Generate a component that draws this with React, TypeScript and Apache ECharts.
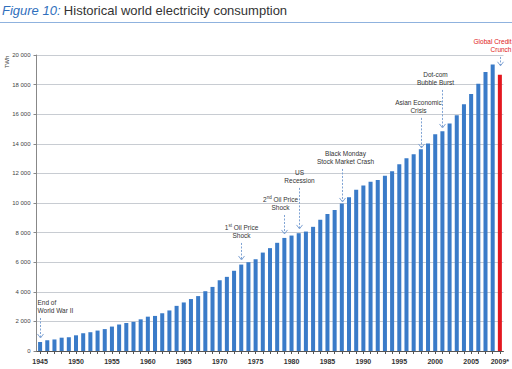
import React, { useEffect, useRef } from "react";
import * as echarts from "echarts";

const years = [
  "1945","1946","1947","1948","1949","1950","1951","1952","1953","1954",
  "1955","1956","1957","1958","1959","1960","1961","1962","1963","1964",
  "1965","1966","1967","1968","1969","1970","1971","1972","1973","1974",
  "1975","1976","1977","1978","1979","1980","1981","1982","1983","1984",
  "1985","1986","1987","1988","1989","1990","1991","1992","1993","1994",
  "1995","1996","1997","1998","1999","2000","2001","2002","2003","2004",
  "2005","2006","2007","2008","2009",
];

const consumptionTWh = [
  600, 730, 780, 900, 930, 1060, 1200, 1270, 1380, 1480,
  1650, 1790, 1900, 1970, 2140, 2320, 2370, 2550, 2740, 3050,
  3280, 3510, 3710, 4040, 4330, 4780, 5010, 5420, 5840, 6000,
  6200, 6650, 6950, 7310, 7640, 7800, 7960, 8070, 8390, 8860,
  9250, 9520, 9960, 10390, 10890, 11180, 11430, 11550, 11840, 12140,
  12610, 13030, 13300, 13640, 14020, 14650, 14850, 15370, 15930, 16670,
  17370, 18050, 18850, 19350, 18670,
];

const estimatedYear = "2009";

const annotationYears = ["1945", "1973", "1979", "1981", "1987", "1998", "2001", "2009"];
const annotationTexts = [
  "End of\nWorld War II",
  "1{sup|st} Oil Price\nShock",
  "2{sup|nd} Oil Price\nShock",
  "US\nRecession",
  "Black Monday\nStock Market Crash",
  "Asian Economic\nCrisis",
  "Dot-com\nBubble Burst",
  "Global Credit\nCrunch",
];
const arrowStartValues = [2230, 7300, 9190, 11020, 12300, 15750, 17640, 19870];
const arrowEndValues = [880, 6150, 7910, 8250, 10070, 13720, 15070, 19270];

// layout (pixel offsets of the label relative to the arrow, and alignment)
const labelLayout = [
  { dx: -3, align: "left", color: "#333" },
  { dx: 0, align: "center", color: "#333" },
  { dx: -4, align: "center", color: "#333" },
  { dx: 0, align: "center", color: "#333" },
  { dx: 3, align: "center", color: "#333" },
  { dx: -3, align: "center", color: "#333" },
  { dx: -7, align: "center", color: "#333" },
  { dx: 11, align: "right", color: "#e02020" },
];

const yTicks = [0, 2000, 4000, 6000, 8000, 10000, 12000, 14000, 16000, 18000, 20000];

const fmtThousands = (v: number) => {
  const s = String(v);
  if (s.length <= 3) return s;
  return s.slice(0, s.length - 3) + " " + s.slice(s.length - 3);
};

export default function App() {
  const ref = useRef<HTMLDivElement>(null);
  useEffect(() => {
    if (!ref.current) return;
    const chart = echarts.init(ref.current, undefined, { renderer: "svg" });
    const barData = consumptionTWh.map((v, i) =>
      years[i] === estimatedYear
        ? { value: v, itemStyle: { color: "#e3171f" } }
        : v
    );
    chart.setOption({
      animation: false,
      grid: { left: 36.5, right: 6, top: 55, bottom: 18, containLabel: false },
      xAxis: {
        type: "category",
        data: years,
        boundaryGap: true,
        axisLine: { lineStyle: { color: "#555", width: 1 } },
        axisTick: { show: true, alignWithLabel: true, length: 3, lineStyle: { color: "#555" }, interval: 0 },
        axisLabel: {
          interval: (idx: number, val: string) =>
            (Number(val) - 1945) % 5 === 0 || idx === years.length - 1,
          formatter: (val: string) => (val === estimatedYear ? val + "*" : val),
          fontSize: 7,
          fontWeight: "bold",
          color: "#333",
          fontFamily: "Liberation Sans",
          margin: 7,
        },
      },
      yAxis: {
        type: "value",
        min: 0,
        max: 20000,
        interval: 2000,
        axisLine: { show: true, lineStyle: { color: "#888" } },
        axisTick: { show: true, length: 3, lineStyle: { color: "#888" } },
        axisLabel: {
          formatter: (v: number) => (yTicks.includes(v) ? fmtThousands(v) : ""),
          fontSize: 6,
          color: "#444",
          fontFamily: "Liberation Sans",
          margin: 6,
        },
        splitLine: { lineStyle: { color: "#c8ccd2", width: 1 } },
      },
      series: [
        {
          type: "bar",
          data: barData,
          barWidth: "56%",
          itemStyle: { color: "#3a7bc8" },
        },
      ],
    });

    const graphics: any[] = [
      {
        type: "text",
        left: 2,
        top: 4,
        style: {
          text: "{fig|Figure 10:} {t|Historical world electricity consumption}",
          rich: {
            fig: { fontSize: 13, fontStyle: "italic", fill: "#2f6fbd", fontFamily: "Liberation Sans Narrow, Liberation Sans" },
            t: { fontSize: 13, fill: "#333", fontFamily: "Liberation Sans Narrow, Liberation Sans" },
          },
        },
      },
      {
        type: "line",
        shape: { x1: 0, y1: 22.5, x2: 512, y2: 22.5 },
        style: { stroke: "#8fb2de", lineWidth: 1 },
      },
      {
        type: "text",
        x: 7,
        y: 62,
        rotation: Math.PI / 2,
        style: {
          text: "TWh",
          fontSize: 6,
          fill: "#444",
          fontFamily: "Liberation Sans",
          align: "center",
          verticalAlign: "middle",
        },
      },
    ];

    annotationYears.forEach((yr, i) => {
      const p1 = chart.convertToPixel({ gridIndex: 0 }, [yr, arrowStartValues[i]]) as number[];
      const p2 = chart.convertToPixel({ gridIndex: 0 }, [yr, arrowEndValues[i]]) as number[];
      const x = Math.round(p1[0]) + 0.5;
      const lay = labelLayout[i];
      const arrowColor = "#7fa3d4";
      graphics.push({
        type: "line",
        shape: { x1: x, y1: p1[1], x2: x, y2: p2[1] },
        style: { stroke: arrowColor, lineWidth: 1, lineDash: [2, 1.5] },
      });
      graphics.push({
        type: "polyline",
        shape: { points: [[x - 3, p2[1] - 4], [x, p2[1]], [x + 3, p2[1] - 4]] },
        style: { stroke: arrowColor, lineWidth: 1, fill: "none" },
      });
      graphics.push({
        type: "text",
        x: x + lay.dx,
        y: p1[1] - 3,
        style: {
          text: annotationTexts[i],
          align: lay.align,
          verticalAlign: "bottom",
          fontSize: 6.5,
          lineHeight: 8.5,
          fill: lay.color,
          fontFamily: "Liberation Sans",
          rich: {
            sup: { fontSize: 4.5, verticalAlign: "top", fill: lay.color, fontFamily: "Liberation Sans", lineHeight: 8.5 },
          },
        },
      });
    });

    chart.setOption({ graphic: graphics });
    return () => chart.dispose();
  }, []);
  return <div ref={ref} style={{ width: 512, height: 369, position: "absolute", left: 0, top: 0, background: "#fff" }} />;
}
